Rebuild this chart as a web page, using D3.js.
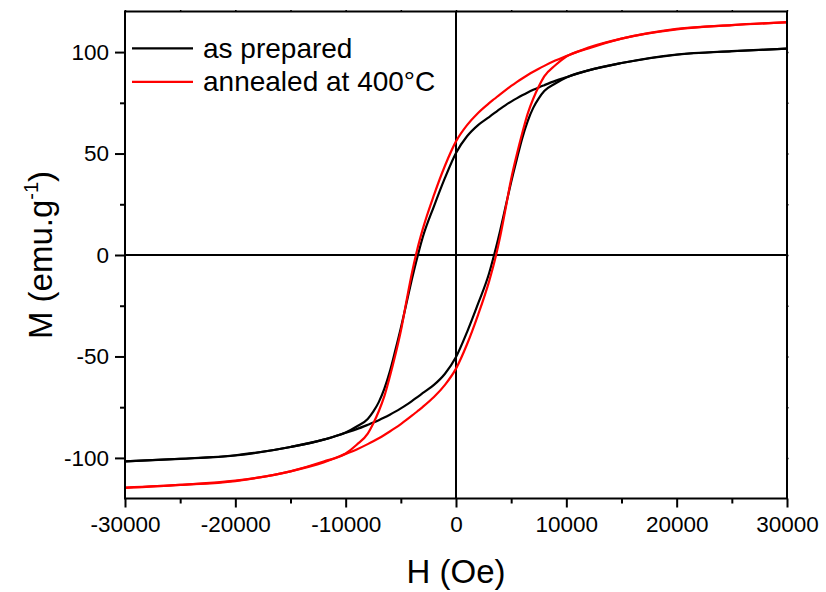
<!DOCTYPE html>
<html>
<head>
<meta charset="utf-8">
<script src="https://cdn.jsdelivr.net/npm/d3@7"></script>
<style>
html,body{margin:0;padding:0;background:#fff;}
svg{display:block;}
text{font-family:Arial,"Liberation Sans",sans-serif;fill:#000;}
</style>
</head>
<body>
<script>
// Field values (Oe)
const H = [-30000,-25000,-20000,-15000,-12000,-10000,-9000,-8000,-7500,-7000,-6500,-6000,-5500,-5000,-4500,-4000,-3500,-3000,-2000,-1000,0,1000,2000,3000,3500,4000,4500,5000,5500,6000,6500,7000,7500,8000,9000,10000,12000,15000,20000,25000,30000];
// "as prepared": upper (descending) and lower (ascending) branches
const preparedUpper = [-101.7,-100.4,-98.7,-94.6,-91.0,-87.5,-84.5,-80.8,-77.2,-72.5,-66.0,-57.5,-47.0,-36.0,-24.0,-12.0,-1.0,9.0,24.0,38.0,50.3,58.5,64.0,68.0,70.0,72.0,73.9,75.6,77.2,78.7,80.1,81.4,82.6,83.7,85.8,87.6,91.0,94.6,98.8,100.5,101.7];
const preparedLower = [-101.7,-100.5,-98.8,-94.6,-91.0,-87.6,-85.8,-83.7,-82.6,-81.4,-80.1,-78.7,-77.2,-75.6,-73.9,-72.0,-70.0,-68.0,-64.0,-58.5,-50.3,-38.0,-24.0,-9.0,1.0,12.0,24.0,36.0,47.0,57.5,66.0,72.5,77.2,80.8,84.5,87.5,91.0,94.6,98.7,100.4,101.7];
// "annealed at 400°C"
const annealedUpper = [-114.8,-113.3,-111.2,-106.6,-101.8,-97.8,-93.5,-88.0,-83.0,-77.0,-69.7,-60.0,-49.3,-37.5,-23.0,-9.0,3.0,13.0,29.5,44.0,56.0,64.0,70.0,74.8,77.0,79.2,81.3,83.3,85.2,87.0,88.7,90.3,91.8,93.2,95.8,98.0,102.2,106.6,111.4,113.3,114.6];
const annealedLower = [-114.6,-113.3,-111.4,-106.6,-102.2,-98.0,-95.8,-93.2,-91.8,-90.3,-88.7,-87.0,-85.2,-83.3,-81.3,-79.2,-77.0,-74.8,-70.0,-64.0,-56.0,-44.0,-29.5,-13.0,-3.0,9.0,23.0,37.5,49.3,60.0,69.7,77.0,83.0,88.0,93.5,97.8,101.8,106.6,111.2,113.3,114.8];

const seriesNames = ["as prepared","annealed at 400°C"];
const seriesColors = ["#000000","#ff0000"];
const xTicks = [-30000,-20000,-10000,0,10000,20000,30000];
const xMinor = [-25000,-15000,-5000,5000,15000,25000];
const yTicks = [-100,-50,0,50,100];
const yMinor = [-75,-25,25,75];

const W = 826, Hh = 592;
const L = 125, R = 787, T = 11.5, B = 498.5;

const svg = d3.select("body").append("svg").attr("width", W).attr("height", Hh);
const x = d3.scaleLinear().domain([-30000,30000]).range([L,R]);
const y = d3.scaleLinear().domain([-120,120]).range([B,T]);

svg.append("clipPath").attr("id","clip").append("rect")
  .attr("x",L).attr("y",T).attr("width",R-L).attr("height",B-T);

// zero lines
svg.append("line").attr("x1",x(0)).attr("x2",x(0)).attr("y1",T).attr("y2",B)
  .attr("stroke","#000").attr("stroke-width",2);
svg.append("line").attr("x1",L).attr("x2",R).attr("y1",y(0)).attr("y2",y(0))
  .attr("stroke","#000").attr("stroke-width",2);

// curves
const line = d3.line().x(d=>x(d[0])).y(d=>y(d[1])).curve(d3.curveMonotoneX);
const branches = [
  {v: preparedUpper, c: 0}, {v: preparedLower, c: 0},
  {v: annealedUpper, c: 1}, {v: annealedLower, c: 1}
];
const g = svg.append("g").attr("clip-path","url(#clip)");
branches.forEach(b => {
  g.append("path").datum(H.map((h,i)=>[h,b.v[i]]))
    .attr("d", line).attr("fill","none")
    .attr("stroke", seriesColors[b.c]).attr("stroke-width", 2.2)
    .attr("stroke-linejoin","round");
});

// axes
const fmt = d3.format("d");
const xAxis = d3.axisBottom(x).tickValues(xTicks).tickSize(9).tickPadding(7).tickFormat(d => fmt(d).replace("−","-"));
const gx = svg.append("g").attr("transform",`translate(0,${B})`).call(xAxis);
gx.select(".domain").remove();
gx.selectAll("line").attr("stroke","#000").attr("stroke-width",2);
gx.selectAll("text").attr("font-size",22.5).attr("font-family","Arial, 'Liberation Sans', sans-serif").attr("dy","0.71em").attr("y",18);
svg.append("g").attr("transform",`translate(0,${B})`)
  .call(d3.axisBottom(x).tickValues(xMinor).tickSize(5).tickFormat(""))
  .call(s=>{s.select(".domain").remove(); s.selectAll("line").attr("stroke","#000").attr("stroke-width",2);});

const yAxis = d3.axisLeft(y).tickValues(yTicks).tickSize(10).tickPadding(6).tickFormat(d => fmt(d).replace("−","-"));
const gy = svg.append("g").attr("transform",`translate(${L},0)`).call(yAxis);
gy.select(".domain").remove();
gy.selectAll("line").attr("stroke","#000").attr("stroke-width",2);
gy.selectAll("text").attr("font-size",22.5).attr("font-family","Arial, 'Liberation Sans', sans-serif");
svg.append("g").attr("transform",`translate(${L},0)`)
  .call(d3.axisLeft(y).tickValues(yMinor).tickSize(5).tickFormat(""))
  .call(s=>{s.select(".domain").remove(); s.selectAll("line").attr("stroke","#000").attr("stroke-width",2);});

// tiny mirror ticks top/right
svg.append("g").attr("transform",`translate(0,${T})`)
  .call(d3.axisTop(x).tickValues(xTicks.concat(xMinor)).tickSize(1.5).tickFormat(""))
  .call(s=>{s.select(".domain").remove(); s.selectAll("line").attr("stroke","#000").attr("stroke-width",1.5);});
svg.append("g").attr("transform",`translate(${R},0)`)
  .call(d3.axisRight(y).tickValues(yTicks.concat(yMinor)).tickSize(1.5).tickFormat(""))
  .call(s=>{s.select(".domain").remove(); s.selectAll("line").attr("stroke","#000").attr("stroke-width",1.5);});

// frame
svg.append("rect").attr("x",L).attr("y",T).attr("width",R-L).attr("height",B-T)
  .attr("fill","none").attr("stroke","#000").attr("stroke-width",2);

// axis titles
svg.append("text").attr("x",x(0)).attr("y",583).attr("text-anchor","middle")
  .attr("font-size",33).text("H (Oe)");
const yt = svg.append("text").attr("transform",`translate(52,${y(0)}) rotate(-90)`)
  .attr("text-anchor","middle").attr("font-size",33);
yt.append("tspan").text("M (emu.g");
yt.append("tspan").attr("font-size",20).attr("dy",-14).text("-1");
yt.append("tspan").attr("dy",14).text(")");

// legend
const leg = svg.append("g");
seriesNames.forEach((n,i) => {
  const ly = 48.3 + i*33.5;
  leg.append("line").attr("x1",132).attr("x2",193).attr("y1",ly).attr("y2",ly)
    .attr("stroke",seriesColors[i]).attr("stroke-width",2.2);
  leg.append("text").attr("x",203).attr("y",ly+9.5).attr("font-size",28).text(n);
});
</script>
</body>
</html>
